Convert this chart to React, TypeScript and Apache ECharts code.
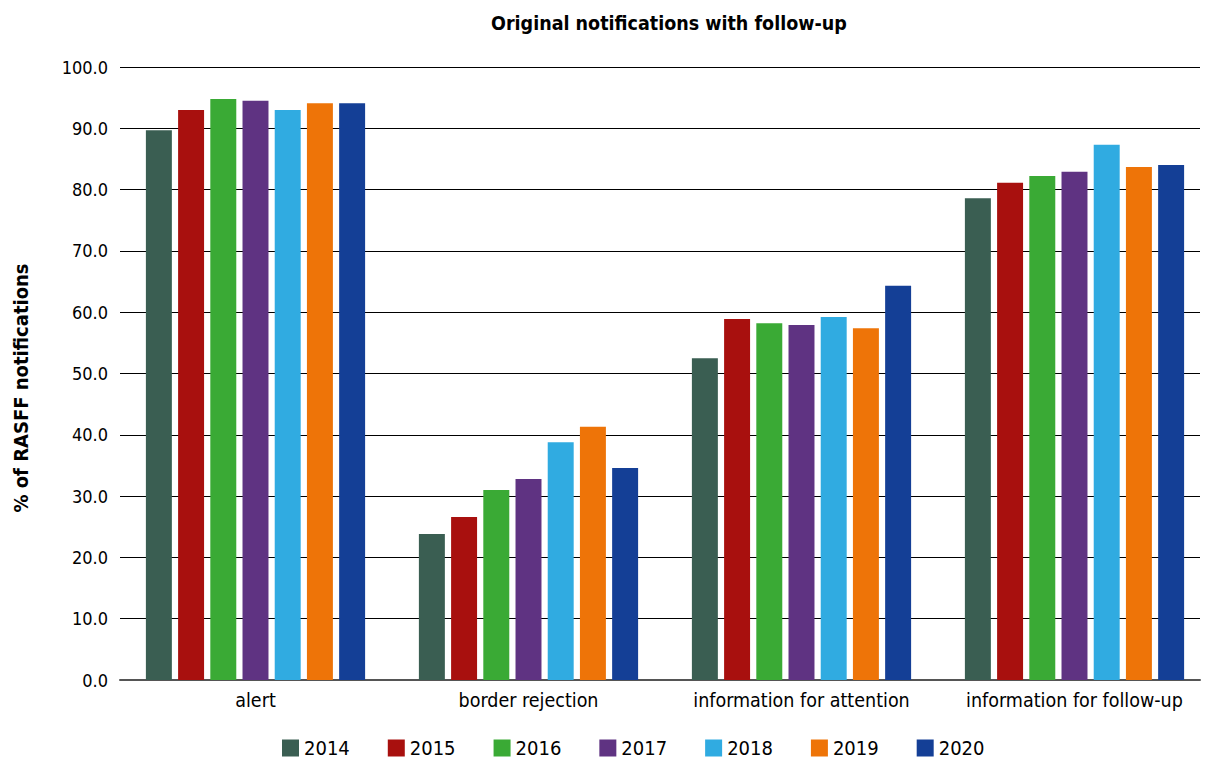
import React, { useEffect, useRef } from "react";
import * as echarts from "echarts";

const categories = ["alert", "border rejection", "information for attention", "information for follow-up"];
const years = ["2014", "2015", "2016", "2017", "2018", "2019", "2020"];
const values2014 = [89.7, 23.8, 52.5, 78.6];
const values2015 = [93.0, 26.6, 58.9, 81.1];
const values2016 = [94.8, 31.0, 58.2, 82.2];
const values2017 = [94.5, 32.8, 57.9, 82.9];
const values2018 = [93.0, 38.8, 59.2, 87.3];
const values2019 = [94.1, 41.3, 57.4, 83.7];
const values2020 = [94.1, 34.6, 64.3, 84.0];
const seriesValues = [values2014, values2015, values2016, values2017, values2018, values2019, values2020];
const colors = ["#3a5e52", "#a8100e", "#3aaa35", "#5f3382", "#30abe1", "#ee7408", "#143f96"];
const yTicks = [0, 10, 20, 30, 40, 50, 60, 70, 80, 90, 100];

const FONT = "'DejaVu Sans Condensed', 'Liberation Sans Narrow', 'DejaVu Sans', sans-serif";

export default function App() {
  const ref = useRef<HTMLDivElement>(null);
  useEffect(() => {
    if (!ref.current) return;
    const chart = echarts.init(ref.current, null, { renderer: "svg" });
    chart.setOption({
      animation: false,
      textStyle: { fontFamily: FONT },
      title: {
        text: "Original notifications with follow-up",
        left: 486,
        top: 8,
        textStyle: { fontFamily: FONT, fontSize: 19.5, fontWeight: "bold", color: "#000" },
      },
      legend: {
        top: 733,
        left: 277,
        itemWidth: 17,
        itemHeight: 17,
        itemGap: 38,
        icon: "rect",
        textStyle: { fontFamily: FONT, fontSize: 20, color: "#000" },
        data: years,
      },
      graphic: [
        {
          type: "text",
          x: 21,
          y: 388,
          rotation: Math.PI / 2,
          style: {
            text: "% of RASFF notifications",
            fontFamily: FONT,
            fontSize: 20,
            fontWeight: "bold",
            fill: "#000",
            align: "center",
            verticalAlign: "middle",
          },
        },
      ],
      grid: [
        { left: 119, right: -4, top: 67, bottom: 81, containLabel: false },
        { left: 120, right: 11, top: 67, bottom: 81, containLabel: false },
      ],
      xAxis: [
        {
          type: "category",
          gridIndex: 0,
          data: categories,
          axisLine: { show: false },
          axisTick: { show: false },
          axisLabel: { interval: 0, fontFamily: FONT, fontSize: 19.5, color: "#000", margin: 10 },
        },
        {
          type: "value",
          gridIndex: 1,
          min: 0,
          max: 1,
          axisLine: { show: true, lineStyle: { color: "#555", width: 2 } },
          axisTick: { show: false },
          axisLabel: { show: false },
          splitLine: { show: false },
        },
      ],
      yAxis: [
        {
          type: "value",
          gridIndex: 0,
          min: 0,
          max: 100,
          interval: 10,
          axisLine: { show: false },
          axisTick: { show: false },
          axisLabel: { show: false },
          splitLine: { show: false },
        },
        {
          type: "value",
          gridIndex: 1,
          min: yTicks[0],
          max: yTicks[yTicks.length - 1],
          interval: 10,
          axisLine: { show: false },
          axisTick: { show: false },
          axisLabel: { fontFamily: FONT, fontSize: 18, color: "#000", margin: 12, formatter: (v: number) => v.toFixed(1) },
          splitLine: { lineStyle: { color: "#000", width: 1 } },
        },
      ],
      series: years.map((y, i) => ({
        name: y,
        type: "bar",
        xAxisIndex: 0,
        yAxisIndex: 0,
        data: seriesValues[i],
        itemStyle: { color: colors[i] },
        barGap: "24%",
        barCategoryGap: "19.7%",
        z: 3,
      })),
    });
    return () => chart.dispose();
  }, []);
  return <div ref={ref} style={{ position: "fixed", left: 0, top: 0, width: 1211, height: 761, background: "#fff" }} />;
}
